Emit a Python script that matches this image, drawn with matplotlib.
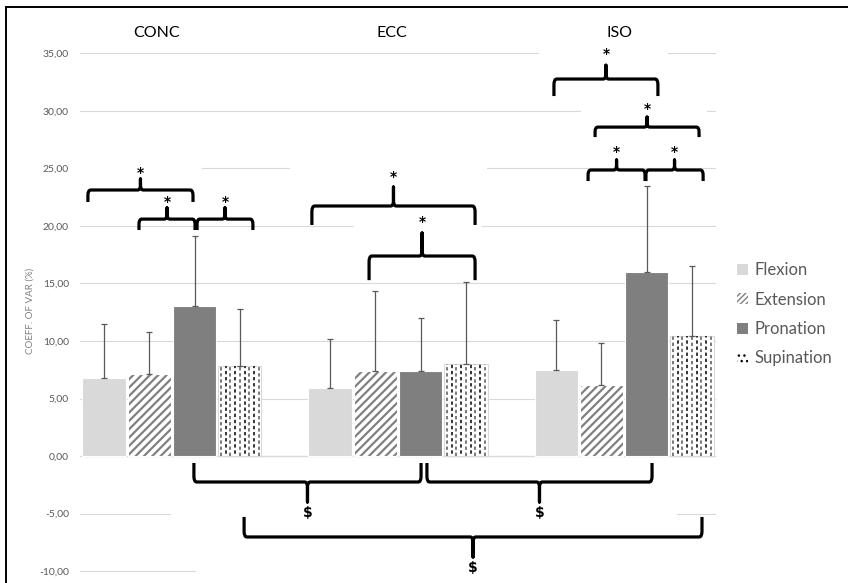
import matplotlib
matplotlib.use("Agg")
import matplotlib.pyplot as plt
from matplotlib.path import Path
from matplotlib.patches import PathPatch, Rectangle, Patch
from matplotlib.lines import Line2D
import numpy as np

plt.rcParams['font.family'] = ['Lato', 'DejaVu Sans']

# data (coefficient of variation, %)
groups = ["CONC", "ECC", "ISO"]
series = ["Flexion", "Extension", "Pronation", "Supination"]
flexion = [6.8, 5.9, 7.5]
extension = [7.1, 7.4, 6.2]
pronation = [13.0, 7.4, 16.0]
supination = [7.8, 8.0, 10.4]
flexion_sd = [4.7, 4.25, 4.3]
extension_sd = [3.7, 6.95, 3.6]
pronation_sd = [6.1, 4.6, 7.45]
supination_sd = [4.95, 7.15, 6.15]

means = [flexion, extension, pronation, supination]
sds = [flexion_sd, extension_sd, pronation_sd, supination_sd]

# significance brackets: (x0, x1, y line, end depth, tip height, label y)
top_brackets = [
    (-0.372, 0.093, 23.13, 1.04, 0.96, 24.6),
    (-0.146, 0.102, 20.6, 0.95, 0.97, 22.1),
    (0.111, 0.358, 20.6, 0.95, 0.97, 22.1),
    (0.619, 1.341, 21.74, 1.65, 1.65, 24.3),
    (0.872, 1.341, 17.39, 2.1, 2.0, 20.35),
    (1.690, 2.150, 32.78, 1.48, 1.2, 34.95),
    (1.872, 2.332, 28.6, 0.87, 0.87, 30.15),
    (1.841, 2.093, 24.87, 0.96, 0.87, 26.4),
    (2.097, 2.350, 24.87, 0.96, 0.87, 26.4),
]
bottom_brackets = [
    (0.097, 1.102, -2.26, 1.65, 1.74, -4.95),
    (1.128, 2.124, -2.26, 1.65, 1.74, -4.95),
    (0.319, 2.345, -7.04, 1.74, 1.74, -9.7),
]
# white backgrounds of the pasted bracket pictures (hide gridlines)
masks = [
    (-0.46, 0.133, 21.5, 26.5),
    (0.522, 1.394, 21.5, 26.5),
    (0.805, 1.372, 15.2, 21.5),
    (1.624, 2.195, 30.8, 36.0),
    (1.810, 2.367, 27.0, 31.5),
    (-0.004, 2.235, -6.5, -0.5),
    (0.106, 2.5, -12.0, -7.5),
]
title_shift = [-0.068, -0.027, -0.022]


def brace(ax, x0, x1, y, depth, tip, label, lab_y, up=True):
    s = 1 if up else -1
    xm = (x0 + x1) / 2
    r = 0.012
    c = min(0.45 * depth, 0.5)
    verts = [(x0, y - s * depth), (x0, y - s * c), (x0, y), (x0 + r, y),
             (xm - r, y), (xm, y), (xm, y + s * c), (xm, y + s * tip),
             (xm, y + s * c), (xm, y), (xm + r, y),
             (x1 - r, y), (x1, y), (x1, y - s * c), (x1, y - s * depth)]
    codes = [Path.MOVETO, Path.LINETO, Path.CURVE3, Path.CURVE3,
             Path.LINETO, Path.CURVE3, Path.CURVE3, Path.LINETO,
             Path.LINETO, Path.CURVE3, Path.CURVE3,
             Path.LINETO, Path.CURVE3, Path.CURVE3, Path.LINETO]
    ax.add_patch(PathPatch(Path(verts, codes), facecolor='none', edgecolor='black',
                           lw=2.3, capstyle='butt', joinstyle='round', zorder=5, clip_on=False))
    ax.text(xm, lab_y, label, ha='center', va='center', fontsize=10, fontweight='bold',
            family='DejaVu Sans', zorder=6, clip_on=False)


fig = plt.figure(figsize=(8.48, 5.83), dpi=100)
# axes placed so that 0 sits at 456 px and 11.5 px per unit
ppu = 11.5
y_lo, y_hi = -10.3, 35.3
top_px = 456 - y_hi * ppu
bot_px = 456 - y_lo * ppu
ax = fig.add_axes([80 / 848, (583 - bot_px) / 583, 636 / 848, (bot_px - top_px) / 583])
ax.set_xlim(-0.407, 2.407)
ax.set_ylim(y_lo, y_hi)

yticks = np.arange(-10, 36, 5)
for t in yticks:
    if t != 0:
        ax.axhline(t, color='#d9d9d9', lw=0.8, zorder=0)
ax.axhline(0, color='#d9d9d9', lw=1.0, zorder=1.5)
for x0, x1, y0, y1 in masks:
    ax.add_patch(Rectangle((x0, y0), x1 - x0, y1 - y0, facecolor='white',
                           edgecolor='none', zorder=0.5, clip_on=False))

x = np.arange(len(groups))
width = 0.192
offsets = [-0.3, -0.1, 0.1, 0.3]
err_kw = dict(ecolor='#595959', elinewidth=0.9, capsize=2.5, capthick=0.9, zorder=3)

# Flexion
ax.bar(x + offsets[0], flexion, width, color='#d9d9d9', edgecolor='white', lw=0.8, zorder=2)
ax.errorbar(x + offsets[0], flexion, yerr=[np.zeros(3), flexion_sd], fmt='none', **err_kw)
# Extension (gray stripes on white)
plt.rcParams['hatch.linewidth'] = 1.6
ax.bar(x + offsets[1], extension, width, color='white', edgecolor='#808080', lw=0,
       hatch='////', zorder=2)
ax.bar(x + offsets[1], extension, width, color='none', edgecolor='white', lw=0.8, zorder=2.1)
ax.errorbar(x + offsets[1], extension, yerr=[np.zeros(3), extension_sd], fmt='none', **err_kw)
# Pronation
ax.bar(x + offsets[2], pronation, width, color='#7f7f7f', edgecolor='white', lw=0.8, zorder=2)
ax.errorbar(x + offsets[2], pronation, yerr=[np.zeros(3), pronation_sd], fmt='none', **err_kw)
# Supination (dashed vertical pattern)
sup_bars = ax.bar(x + offsets[3], supination, width, color='white', edgecolor='#d9d9d9',
                  lw=0.8, zorder=2)
for b in sup_bars:
    bx, bw, bh = b.get_x(), b.get_width(), b.get_height()
    for k, cx in enumerate(np.linspace(bx + 0.012, bx + bw - 0.012, 9)):
        ln = Line2D([cx, cx], [0, bh], color='black' if k % 2 else '#555555', lw=1.1,
                    linestyle=(k % 2 * 2.5, (2.2, 1.8)), zorder=2.2)
        ax.add_line(ln)
        ln.set_clip_path(b)
ax.errorbar(x + offsets[3], supination, yerr=[np.zeros(3), supination_sd], fmt='none', **err_kw)

for b in top_brackets:
    brace(ax, b[0], b[1], b[2], b[3], b[4], '*', b[5], up=True)
for b in bottom_brackets:
    brace(ax, b[0], b[1], b[2], b[3], b[4], '$', b[5], up=False)

for i, g in enumerate(groups):
    ax.text(x[i] + title_shift[i], 36.8, g, ha='center', va='center',
            fontsize=11.5, color='black', clip_on=False)

ax.set_yticks(yticks)
ax.set_yticklabels([f"{t:.2f}".replace('.', ',') for t in yticks], fontsize=7.5, color='#595959')
ax.tick_params(axis='y', length=0, pad=8)
ax.set_xticks([])
for sp in ax.spines.values():
    sp.set_visible(False)
fig.text(30 / 848, 1 - 311 / 583, "COEFF. OF VAR (%)", rotation=90, ha='center', va='center',
         fontsize=7, color='#7f7f7f')

plt.rcParams['hatch.linewidth'] = 1.0
handles = [Patch(facecolor='#d9d9d9', edgecolor='none'),
           Patch(facecolor='white', edgecolor='#808080', hatch='//////', lw=0),
           Patch(facecolor='#7f7f7f', edgecolor='none'),
           Patch(facecolor='white', edgecolor='black', hatch='...', lw=0)]
fig.legend(handles, series, loc='upper left', bbox_to_anchor=(729 / 848, 1 - 254 / 583),
           frameon=False, fontsize=12, handlelength=0.65, handleheight=0.65,
           handletextpad=0.4, labelspacing=0.8, borderpad=0, labelcolor='#595959')

# outer frame
fig.add_artist(Line2D([6 / 848, 1], [1 - 7 / 583, 1 - 7 / 583], color='black', lw=1.4))
fig.add_artist(Line2D([6 / 848, 6 / 848], [0, 1 - 7 / 583], color='black', lw=1.4))

fig.savefig("out.png", dpi=100)
